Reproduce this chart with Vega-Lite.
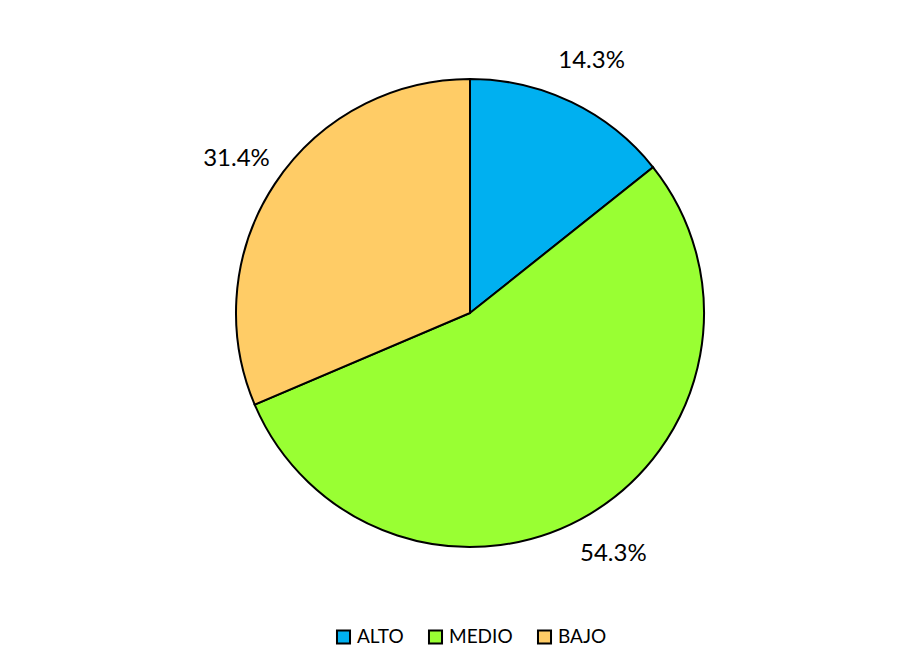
{
  "$schema": "https://vega.github.io/schema/vega-lite/v6.json",
  "width": 880,
  "height": 580,
  "padding": {"left": 30, "top": 23, "right": 9, "bottom": 10},
  "autosize": {"type": "pad"},
  "background": "white",
  "config": {
    "view": {"stroke": null},
    "font": "Lato",
    "legend": {"layout": {"bottom": {"anchor": "middle"}}}
  },
  "data": {
    "values": [
      {"category": "ALTO", "pct": 14.3, "ord": 1, "label": "14.3%"},
      {"category": "MEDIO", "pct": 54.3, "ord": 2, "label": "54.3%"},
      {"category": "BAJO", "pct": 31.4, "ord": 3, "label": "31.4%"}
    ]
  },
  "encoding": {
    "theta": {"field": "pct", "type": "quantitative", "stack": true},
    "order": {"field": "ord", "type": "quantitative"}
  },
  "layer": [
    {
      "mark": {"type": "arc", "outerRadius": 234, "stroke": "black", "strokeWidth": 2},
      "encoding": {
        "color": {
          "field": "category",
          "type": "nominal",
          "sort": ["ALTO", "MEDIO", "BAJO"],
          "scale": {"domain": ["ALTO", "MEDIO", "BAJO"], "range": ["#00B0F0", "#99FF33", "#FFCC66"]},
          "legend": {
            "title": null,
            "orient": "bottom",
            "direction": "horizontal",
            "symbolType": "square",
            "symbolSize": 170,
            "symbolStrokeColor": "black",
            "symbolStrokeWidth": 2,
            "symbolOpacity": 1,
            "labelFontSize": 19,
            "labelFont": "Lato",
            "labelColor": "black",
            "labelOffset": 4,
            "columnPadding": 20,
            "offset": 24
          }
        }
      }
    },
    {
      "mark": {"type": "text", "radius": 280, "fontSize": 24, "font": "Lato", "color": "black"},
      "encoding": {
        "detail": {"field": "category", "type": "nominal"},
        "text": {"field": "label", "type": "nominal"}
      }
    }
  ]
}
